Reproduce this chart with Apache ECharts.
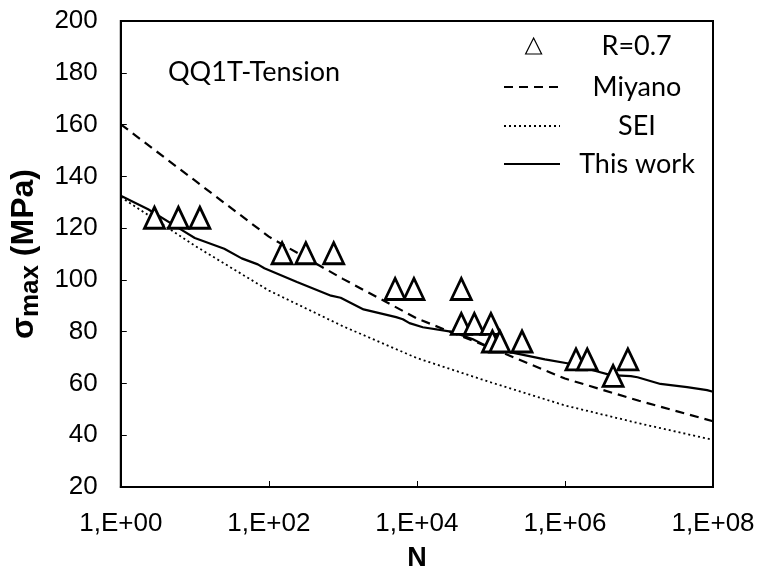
<!DOCTYPE html>
<html><head><meta charset="utf-8">
<script src="https://cdn.jsdelivr.net/npm/echarts@6/dist/echarts.min.js"></script>
<style>html,body{margin:0;padding:0;background:#fff}#c{width:759px;height:577px}</style>
</head><body><div id="c"></div>
<script>
// Test data R=0.7
const testN = [2.85, 6, 11.7, 151, 316, 752, 5080, 9120, 39800, 39800, 59700, 100000, 104700, 131800, 263000, 1410000, 2000000, 7080000, 4470000];
const testS = [124, 124, 124, 110.3, 110.3, 110.3, 96.5, 96.5, 96.5, 83, 83, 83, 76.2, 76.2, 76.2, 69.3, 69.3, 69.3, 62.9];
// Miyano model
const miyanoN = [1, 10, 100, 1e3, 1e4, 1e5, 1e6, 1e7, 1e8];
const miyanoS = [160.1, 138.4, 116.7, 100.4, 85.1, 73.7, 61.9, 53.3, 45.4];
// SEI model
const seiN = [1, 10, 100, 1e3, 1e4, 1e5, 1e6, 1e7, 1e8];
const seiS = [132, 113.2, 95.9, 82.1, 69.8, 60.4, 51.5, 44.6, 38.2];
// This work
const workN = [1, 2.34, 6.3, 10, 25, 43, 71, 87, 240, 692, 933, 1905, 5248, 6457, 7943, 12023, 30200, 56234, 81283, 173780, 537032, 1120000, 2450000, 4170000, 7760000, 9550000, 19500000, 44700000, 83200000, 100000000];
const workS = [132.5, 127.3, 119.7, 116.2, 112.0, 108.3, 106.0, 104.5, 99.2, 93.9, 93.1, 88.6, 85.6, 84.8, 83.3, 81.7, 79.9, 77.2, 74.9, 72.2, 69.3, 67.7, 65.0, 63.2, 62.8, 62.4, 59.8, 58.6, 57.4, 56.8];
// Tick labels
const xTickLabels = {0: '1,E+00', 2: '1,E+02', 4: '1,E+04', 6: '1,E+06', 8: '1,E+08'};
const yTicks = [20, 40, 60, 80, 100, 120, 140, 160, 180, 200];

const zip = (a, b) => a.map((v, i) => [v, b[i]]);
const chart = echarts.init(document.getElementById('c'), null, {renderer: 'canvas'});
const legFont = 'Lato';
function leg(name, left, top, w, h, textW, hideSymbol) {
  return {
    data: [name], left: left, top: top, itemWidth: w, itemHeight: h, padding: 0,
    itemStyle: hideSymbol ? {opacity: 0} : {borderWidth: 1.2},
    formatter: n => '{t|' + n + '}',
    textStyle: {rich: {t: {width: textW, align: 'center', fontFamily: legFont, fontSize: 27, color: '#000', lineHeight: 30, height: 30}}},
    selectedMode: false
  };
}
const axisFont = 'Liberation Sans';
chart.setOption({
  animation: false,
  backgroundColor: '#fff',
  grid: {left: 114, top: 21, right: 46, bottom: 81, show: true, borderColor: '#000', borderWidth: 2, containLabel: false},
  title: {text: 'QQ1T-Tension', left: 168, top: 59, padding: 0, textStyle: {fontFamily: legFont, fontSize: 27, fontWeight: 'normal', color: '#000'}},
  legend: [
    leg('R=0.7', 525, 31, 16, 16, 180, false),
    leg('Miyano', 503, 72, 56, 14, 144, true),
    leg('SEI', 503, 111, 56, 14, 144, true),
    leg('This work', 503, 149, 56, 14, 144, true)
  ],
  xAxis: {
    type: 'log', logBase: 10, min: 1, max: 1e8, interval: 2,
    name: 'N', nameLocation: 'middle', nameGap: 58,
    nameTextStyle: {fontFamily: axisFont, fontSize: 27, fontWeight: 'bold', color: '#000'},
    axisLine: {lineStyle: {color: '#000', width: 2}},
    axisTick: {inside: true, length: 6, lineStyle: {color: '#000', width: 1}},
    splitLine: {show: false}, minorTick: {show: false},
    axisLabel: {margin: 24, fontFamily: axisFont, fontSize: 26, color: '#000',
      formatter: v => { const e = Math.round(Math.log10(v)); return xTickLabels[e] || ''; }}
  },
  yAxis: {
    type: 'value', min: 20, max: 200, interval: 20,
    name: '{s|σ}{b|max}{s| (MPa)}', nameLocation: 'middle', nameGap: 66, nameRotate: 90,
    nameTextStyle: {rich: {
      s: {fontFamily: axisFont, fontSize: 32, fontWeight: 'bold', color: '#000'},
      b: {fontFamily: axisFont, fontSize: 26, fontWeight: 'bold', color: '#000', verticalAlign: 'bottom', padding: [13, 0, 0, 0]}
    }},
    axisLine: {lineStyle: {color: '#000', width: 2}},
    axisTick: {inside: true, length: 6, lineStyle: {color: '#000', width: 1}},
    splitLine: {show: false},
    axisLabel: {margin: 23, fontFamily: axisFont, fontSize: 26, color: '#000'}
  },
  series: [
    {name: 'R=0.7', type: 'scatter', data: zip(testN, testS), symbol: 'triangle', symbolSize: [20, 21],
      itemStyle: {color: '#fff', borderColor: '#000', borderWidth: 2.8, opacity: 1}, z: 5},
    {name: 'Miyano', type: 'line', data: zip(miyanoN, miyanoS), symbol: 'none', smooth: false,
      lineStyle: {color: '#000', width: 2.2, type: [9, 6]}, itemStyle: {color: '#000'}},
    {name: 'SEI', type: 'line', data: zip(seiN, seiS), symbol: 'none',
      lineStyle: {color: '#000', width: 1.8, type: [2, 3]}, itemStyle: {color: '#000'}},
    {name: 'This work', type: 'line', data: zip(workN, workS), symbol: 'none',
      lineStyle: {color: '#000', width: 2.2}, itemStyle: {color: '#000'}}
  ]
});
</script></body></html>
